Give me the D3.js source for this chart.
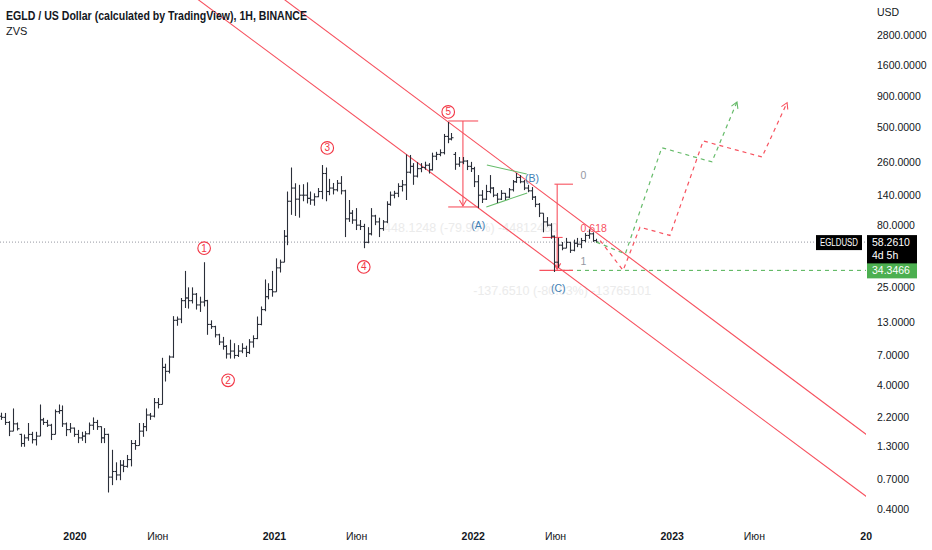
<!DOCTYPE html>
<html>
<head>
<meta charset="utf-8">
<script src="https://cdn.jsdelivr.net/npm/d3@7"></script>
<style>
  body { margin: 0; background: #fff; }
  text { font-family: "Liberation Sans", Arial, sans-serif; }
</style>
</head>
<body>
<script>
// Chart size
const canvasWidth = 932;
const canvasHeight = 550;
const plotRight = 866;
const plotBottom = 522;

// Weekly bars [open, high, low, close], first week starts 2019-08-19
const firstWeek = "2019-08-19";
const bars2019 = [
  [2.25, 2.4, 2.1, 2.2], [2.2, 2.39, 1.91, 2.0], [2.0, 2.05, 1.55, 1.7], [1.7, 2.6, 1.7, 1.95],
  [1.95, 2.0, 1.72, 1.78], [1.6, 1.62, 1.27, 1.35], [1.35, 1.6, 1.27, 1.5], [1.5, 1.98, 1.42, 1.6],
  [1.6, 1.68, 1.35, 1.45], [1.45, 1.68, 1.3, 1.55], [1.55, 2.8, 1.55, 2.1], [2.1, 2.18, 1.91, 2.0],
  [2.0, 2.1, 1.84, 1.9], [1.9, 1.95, 1.44, 1.6], [1.6, 2.55, 1.6, 2.45], [2.45, 2.8, 2.35, 2.5],
  [2.5, 2.75, 1.84, 1.95], [1.95, 2.0, 1.55, 1.75], [1.75, 1.98, 1.65, 1.8], [1.8, 1.82, 1.53, 1.6],
];
const bars2020 = [
  [1.6, 1.74, 1.36, 1.5], [1.5, 1.68, 1.42, 1.55], [1.55, 1.7, 1.36, 1.62], [1.62, 2.0, 1.6, 1.9],
  [1.9, 2.2, 1.74, 2.0], [2.0, 2.1, 1.74, 1.85], [1.85, 1.86, 1.36, 1.5], [1.5, 1.8, 1.36, 1.6],
  [1.6, 1.62, 0.54, 0.72], [0.72, 1.2, 0.62, 0.8], [0.8, 0.95, 0.68, 0.75], [0.75, 0.99, 0.68, 0.9],
  [0.9, 0.99, 0.79, 0.88], [0.88, 1.09, 0.86, 1.0], [1.0, 1.44, 0.88, 1.35], [1.35, 1.44, 1.2, 1.3],
  [1.3, 1.98, 1.3, 1.7], [1.7, 1.98, 1.53, 1.85], [1.85, 2.6, 1.7, 2.3], [2.3, 2.39, 2.1, 2.25],
  [2.25, 3.16, 2.2, 2.9], [2.9, 3.16, 2.6, 2.8], [2.8, 6.7, 2.8, 5.6], [5.6, 6.0, 4.3, 5.2],
  [5.2, 7.0, 5.0, 6.8], [6.8, 14.6, 6.7, 13.5], [13.5, 14.5, 12.2, 13.8], [13.8, 20.5, 12.8, 19.5],
  [19.5, 34, 17, 20.5], [20.5, 25, 16.8, 19.5], [19.5, 25, 18.5, 22], [22, 22.5, 16.5, 18],
  [18, 21, 15.8, 19], [19, 40, 17.5, 19.5], [19.5, 19.8, 10.3, 12.5], [12.5, 13.5, 11.5, 12.0],
  [12.0, 12.2, 9.8, 10.3], [10.3, 10.5, 8.5, 9.0], [9.0, 9.9, 7.8, 8.3], [8.3, 8.5, 6.6, 7.2],
  [7.2, 9.4, 6.6, 7.6], [7.6, 8.8, 6.6, 7.0], [7.0, 8.5, 6.8, 7.6], [7.6, 8.8, 7.3, 8.0],
  [8.0, 8.4, 6.8, 7.4], [7.4, 9.5, 7.2, 9.0], [9.0, 10.2, 8.1, 9.6], [9.6, 14.5, 9.5, 12.5],
  [12.5, 17.5, 12.3, 16.5], [16.5, 29, 16, 21], [21, 27, 20, 24], [24, 34, 21, 23],
];
const bars2021 = [
  [23, 43, 23, 36], [36, 42, 33, 40], [40, 73, 40, 65], [65, 150, 55, 125],
  [125, 235, 97, 160], [160, 175, 95, 130], [130, 170, 92, 140], [140, 172, 125, 140],
  [140, 178, 120, 132], [132, 150, 117, 128], [128, 145, 115, 136], [136, 160, 135, 150],
  [150, 246, 130, 210], [210, 235, 125, 150], [150, 190, 140, 160], [160, 176, 142, 155],
  [155, 186, 150, 175], [175, 200, 142, 152], [152, 155, 64, 90], [90, 128, 85, 100],
  [100, 106, 82, 88], [88, 110, 73, 80], [80, 88, 73, 78], [78, 82, 52, 58],
  [58, 77, 57, 68], [68, 110, 66, 95], [95, 97, 80, 85], [85, 92, 64, 75],
  [75, 88, 72, 85], [85, 125, 83, 118], [118, 150, 115, 140], [140, 152, 132, 145],
  [145, 175, 135, 165], [165, 186, 150, 170], [170, 300, 128, 215], [215, 297, 210, 240],
  [240, 255, 170, 200], [200, 260, 195, 230], [230, 255, 215, 235], [235, 262, 225, 245],
  [245, 255, 210, 225], [225, 310, 222, 290], [290, 315, 270, 300], [300, 330, 290, 310],
  [310, 440, 300, 420], [420, 550, 370, 400], [400, 448, 390, 410], [300, 314, 225, 250],
  [250, 286, 238, 260], [260, 286, 250, 265], [265, 270, 224, 240], [240, 261, 216, 230],
];
const bars2022 = [
  [230, 238, 163, 180], [180, 204, 110, 140], [140, 154, 121, 130], [130, 170, 128, 150],
  [150, 204, 145, 160], [160, 163, 135, 140], [140, 146, 121, 130], [130, 154, 128, 145],
  [145, 146, 128, 135], [135, 160, 133, 155], [155, 186, 150, 180], [180, 212, 176, 195],
  [195, 204, 175, 180], [180, 186, 154, 160], [160, 170, 148, 152], [152, 163, 128, 135],
  [135, 138, 112, 118], [118, 121, 93, 100], [100, 100, 70, 85], [85, 93, 78, 80],
  [80, 83, 62, 65], [65, 66, 33.3, 40], [40, 63, 36, 55], [55, 58.4, 50, 52],
  [52, 63, 52, 58], [58, 58.4, 47.6, 50], [50, 61, 49, 57], [57, 63, 53, 56],
  [56, 63, 52, 60], [60, 69, 58, 66], [66, 74, 62, 68], [68, 70, 58.5, 60],
  [60, 62, 57.5, 58.261],
];

// Price axis
const priceTicks = [2800, 1600, 900, 500, 260, 140, 80, 25, 13, 7, 4, 2.2, 1.3, 0.7, 0.4];
const lastPrice = 58.261;
const targetLevel = 34.3466;

// Time axis
const timeTickDates = ["2020-01-01", "2020-06-01", "2021-01-01", "2021-06-01", "2022-01-01",
  "2022-06-01", "2023-01-01", "2023-06-01", "2024-01-01"];
const timeTickLabels = ["2020", "Июн", "2021", "Июн", "2022", "Июн", "2023", "Июн", "20"];

// Elliott wave labels
const waveDates = ["2020-08-25", "2020-10-08", "2021-04-08", "2021-06-14", "2021-11-16"];
const wavePrices = [52, 4.4, 339, 36.6, 664];
const waveNames = ["1", "2", "3", "4", "5"];
const abcDates = ["2022-01-10", "2022-04-19", "2022-06-06"];
const abcPrices = [80, 193, 24.7];
const abcNames = ["(A)", "(B)", "(C)"];

// Channel lines, two anchors each [date, price]
const channelLower = [["2022-01-13", 108], ["2023-12-27", 0.488]];
const channelUpper = [["2021-11-16", 550], ["2023-12-27", 1.556]];

// Triangle in wave B
const triangleUpper = [["2022-01-26", 246], ["2022-04-09", 208]];
const triangleLower = [["2022-01-25", 112.4], ["2022-04-10", 146]];

// Price range tools: [startDate, endDate, arrowDate, fromPrice, toPrice]
const range1 = ["2021-11-16", "2022-01-10", "2021-12-13", 560.5, 112.376];
const range1Label = "-448.1248 (-79.95%) -44812480";
const range2 = ["2022-05-30", "2022-07-03", "2022-06-04", 172.0, targetLevel];
const range2Label = "-137.6510 (-80.03%) -13765101";

// Fib levels between range2 prices
const fibLevels = [0, 0.618, 1];
const fibLabels = ["0", "0.618", "1"];

// Projected paths
const greenPath = [["2022-08-15", 58.26], ["2022-10-07", 46.7], ["2022-12-13", 340],
  ["2023-03-15", 261], ["2023-04-30", 800]];
const redPath = [["2022-08-22", 60], ["2022-10-03", targetLevel], ["2022-11-03", 77],
  ["2022-12-28", 66], ["2023-02-27", 386], ["2023-06-15", 286], ["2023-07-31", 790]];

const red = "#f7525f";
const green = "#66bb6a";
const barColor = "#2a2e39";
const textColor = "#131722";

const parseDate = (s) => new Date(s + "T00:00:00Z");

const allBars = bars2019.concat(bars2020, bars2021, bars2022).map((b, i) => ({
  date: d3.utcDay.offset(parseDate(firstWeek), 7 * i),
  open: b[0], high: b[1], low: b[2], close: b[3],
}));

// Scales
const x = d3.scaleUtc()
  .domain([parseDate("2020-01-01"), parseDate("2024-01-01")])
  .range([75, 871]);
const y = d3.scaleLog().domain([0.268, 5380]).range([530, 0]);

const px = (p) => [x(parseDate(p[0])), y(p[1])];

const svg = d3.select("body").append("svg")
  .attr("width", canvasWidth)
  .attr("height", canvasHeight);

const defs = svg.append("defs");
defs.append("clipPath").attr("id", "plot-clip")
  .append("rect").attr("x", 0).attr("y", 0).attr("width", plotRight).attr("height", plotBottom);

function arrowMarker(id, color) {
  defs.append("marker")
    .attr("id", id)
    .attr("viewBox", "-8 -5 10 10")
    .attr("refX", 0).attr("refY", 0)
    .attr("markerWidth", 10).attr("markerHeight", 10)
    .attr("markerUnits", "userSpaceOnUse")
    .attr("orient", "auto")
    .append("path")
    .attr("d", "M-6,-3.5L0,0L-6,3.5")
    .attr("fill", "none")
    .attr("stroke", color)
    .attr("stroke-width", 1.1);
}
arrowMarker("arrow-red", red);
arrowMarker("arrow-green", green);

const plot = svg.append("g").attr("clip-path", "url(#plot-clip)");

// Faint range-tool labels sit under everything else
const faintG = plot.append("g");

// Current price dotted line
plot.append("line")
  .attr("x1", 0).attr("x2", plotRight)
  .attr("y1", y(lastPrice)).attr("y2", y(lastPrice))
  .attr("stroke", "#9598a1").attr("stroke-width", 1)
  .attr("stroke-dasharray", "1,2");

// Target level dashed line
plot.append("line")
  .attr("x1", x(parseDate("2022-06-11"))).attr("x2", plotRight)
  .attr("y1", y(targetLevel)).attr("y2", y(targetLevel))
  .attr("stroke", "#4caf50").attr("stroke-width", 1)
  .attr("stroke-dasharray", "4,4");

// Channel lines, extended over the whole plot
function extendedLine(anchors) {
  const [a, b] = anchors.map(px);
  const slope = (b[1] - a[1]) / (b[0] - a[0]);
  const x1 = -20, x2 = plotRight + 20;
  return [[x1, a[1] + slope * (x1 - a[0])], [x2, a[1] + slope * (x2 - a[0])]];
}
[channelLower, channelUpper].forEach((anchors) => {
  const pts = extendedLine(anchors);
  plot.append("line")
    .attr("x1", pts[0][0]).attr("y1", pts[0][1])
    .attr("x2", pts[1][0]).attr("y2", pts[1][1])
    .attr("stroke", red).attr("stroke-width", 1.1);
});

// Triangle
[triangleUpper, triangleLower].forEach((seg) => {
  const [a, b] = seg.map(px);
  plot.append("line")
    .attr("x1", a[0]).attr("y1", a[1]).attr("x2", b[0]).attr("y2", b[1])
    .attr("stroke", green).attr("stroke-width", 1.1);
});

// Price range tools
function rangeTool(r, label, leftExtra, labelShift) {
  const xs = x(parseDate(r[0])), xe = x(parseDate(r[1])), xa = x(parseDate(r[2]));
  const y0 = y(r[3]), y1 = y(r[4]);
  const g = plot.append("g");
  g.append("line").attr("x1", xs).attr("x2", xe).attr("y1", y0).attr("y2", y0)
    .attr("stroke", red).attr("stroke-width", 1.1);
  g.append("line").attr("x1", xs - leftExtra).attr("x2", xe).attr("y1", y1).attr("y2", y1)
    .attr("stroke", red).attr("stroke-width", 1.1);
  g.append("line").attr("x1", xa).attr("x2", xa).attr("y1", y0).attr("y2", y1 - 1)
    .attr("stroke", red).attr("stroke-width", 1.1)
    .attr("marker-end", "url(#arrow-red)");
  faintG.append("text").attr("x", xa + labelShift).attr("y", y1 + 25)
    .attr("text-anchor", "middle").attr("font-size", 12.5)
    .attr("fill", "#ebebeb").text(label);
}
rangeTool(range1, range1Label, 0, 6);
rangeTool(range2, range2Label, 15, 5);

// Fib retracement levels (log scale)
const fibTop = Math.log(range2[3]);
const fibBottom = Math.log(range2[4]);
fibLevels.forEach((lv, i) => {
  const price = Math.exp(fibTop + (fibBottom - fibTop) * lv);
  const yy = y(price);
  if (lv === 0.618) {
    plot.append("line")
      .attr("x1", x(parseDate("2022-05-08"))).attr("x2", x(parseDate("2022-06-14")))
      .attr("y1", yy).attr("y2", yy)
      .attr("stroke", red).attr("stroke-width", 1.1);
  }
  plot.append("text")
    .attr("x", x(parseDate("2022-07-17"))).attr("y", yy - 5)
    .attr("font-size", 10.5)
    .attr("fill", lv === 0.618 ? red : "#9598a1")
    .text(fibLabels[i]);
});

// OHLC bars
const barG = plot.append("g").attr("stroke", barColor).attr("stroke-width", 1.1);
allBars.forEach((d) => {
  const cx = Math.round(x(d.date)) + 0.5;
  barG.append("line").attr("x1", cx).attr("x2", cx).attr("y1", y(d.high)).attr("y2", y(d.low));
  barG.append("line").attr("x1", cx - 2).attr("x2", cx).attr("y1", y(d.open)).attr("y2", y(d.open));
  barG.append("line").attr("x1", cx).attr("x2", cx + 2).attr("y1", y(d.close)).attr("y2", y(d.close));
});

// Projected paths
const lineGen = d3.line().x((p) => x(parseDate(p[0]))).y((p) => y(p[1]));
plot.append("path").datum(greenPath).attr("d", lineGen)
  .attr("fill", "none").attr("stroke", green).attr("stroke-width", 1.2)
  .attr("stroke-dasharray", "4,4").attr("marker-end", "url(#arrow-green)");
plot.append("path").datum(redPath).attr("d", lineGen)
  .attr("fill", "none").attr("stroke", red).attr("stroke-width", 1.2)
  .attr("stroke-dasharray", "4,4").attr("marker-end", "url(#arrow-red)");

// Wave labels
waveNames.forEach((name, i) => {
  const cx = x(parseDate(waveDates[i])), cy = y(wavePrices[i]);
  plot.append("circle").attr("cx", cx).attr("cy", cy).attr("r", 6.3)
    .attr("fill", "#fff").attr("stroke", "#f23645").attr("stroke-width", 1.1);
  plot.append("text").attr("x", cx).attr("y", cy + 3.5)
    .attr("text-anchor", "middle").attr("font-size", 10)
    .attr("fill", "#f23645").text(name);
});
abcNames.forEach((name, i) => {
  plot.append("text")
    .attr("x", x(parseDate(abcDates[i]))).attr("y", y(abcPrices[i]) + 4)
    .attr("text-anchor", "middle").attr("font-size", 10.5)
    .attr("fill", "#3f7fb5").text(name);
});

// Title
svg.append("text").attr("x", 6).attr("y", 20)
  .attr("font-size", 12).attr("font-weight", "bold").attr("fill", textColor)
  .attr("textLength", 301).attr("lengthAdjust", "spacingAndGlyphs")
  .text("EGLD / US Dollar (calculated by TradingView), 1H, BINANCE");
svg.append("text").attr("x", 6).attr("y", 35)
  .attr("font-size", 11).attr("fill", textColor).text("ZVS");

// Right price axis
const axisG = svg.append("g").attr("font-size", 10.5).attr("fill", textColor);
axisG.append("text").attr("x", 877).attr("y", 16).text("USD");
priceTicks.forEach((v) => {
  axisG.append("text").attr("x", 877).attr("y", y(v) + 4).text(v.toFixed(4));
});

// Last price labels
const yl = y(lastPrice);
svg.append("rect").attr("x", 816).attr("y", yl - 7).attr("width", 46).attr("height", 15).attr("fill", "#000");
svg.append("text").attr("x", 839).attr("y", yl + 4).attr("text-anchor", "middle")
  .attr("font-size", 10).attr("fill", "#fff")
  .attr("textLength", 38).attr("lengthAdjust", "spacingAndGlyphs").text("EGLDUSD");
svg.append("rect").attr("x", 867).attr("y", yl - 7).attr("width", 50).attr("height", 29).attr("fill", "#000");
svg.append("text").attr("x", 872).attr("y", yl + 4).attr("font-size", 10.5).attr("fill", "#fff").text(lastPrice.toFixed(4));
svg.append("text").attr("x", 872).attr("y", yl + 17).attr("font-size", 10.5).attr("fill", "#fff").text("4d 5h");

const yt = y(targetLevel);
svg.append("rect").attr("x", 867).attr("y", yt - 7).attr("width", 50).attr("height", 15).attr("fill", "#4caf50");
svg.append("text").attr("x", 872).attr("y", yt + 4).attr("font-size", 10.5).attr("fill", "#fff").text(targetLevel.toFixed(4));

// Time axis
const timeG = svg.append("g").attr("font-size", 10.5).attr("fill", textColor);
timeTickDates.forEach((s, i) => {
  const label = timeTickLabels[i];
  const isYear = label !== "Июн";
  const isLast = i === timeTickDates.length - 1;
  timeG.append("text")
    .attr("x", x(parseDate(s)) + (isLast ? 1 : 0))
    .attr("y", 540)
    .attr("text-anchor", isLast ? "end" : "middle")
    .attr("font-weight", isYear ? "bold" : "normal")
    .text(label);
});
</script>
</body>
</html>
